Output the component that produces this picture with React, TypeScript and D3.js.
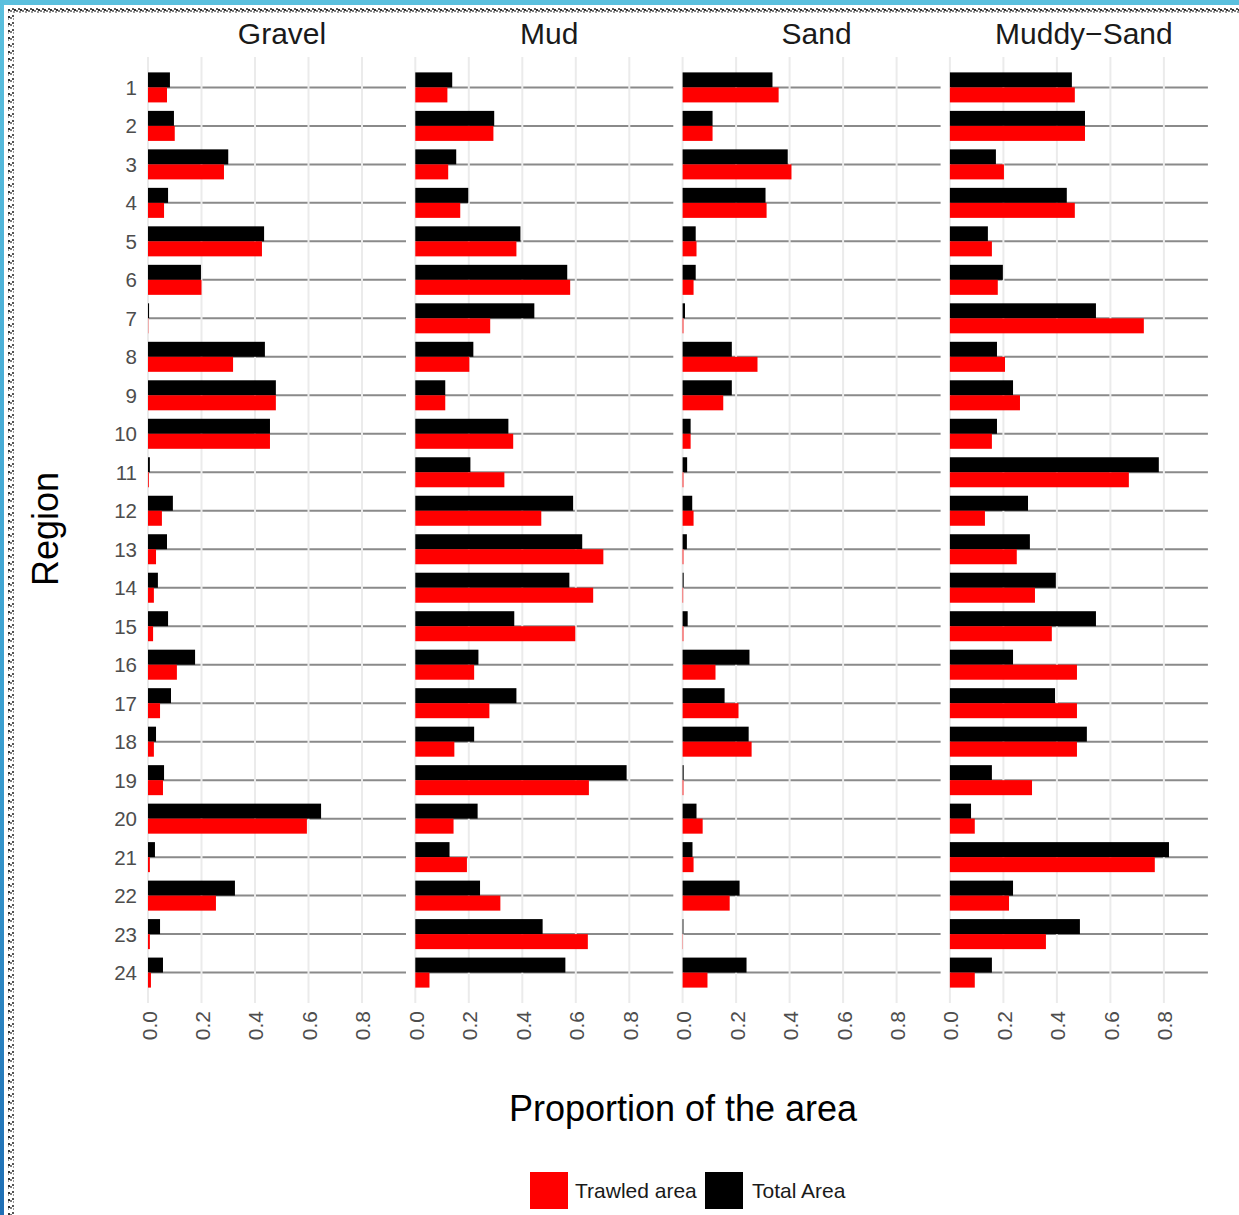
import React from "react";
import * as d3 from "d3";

const regions = d3.range(1, 25).map(String);
const substrates = ["Gravel", "Mud", "Sand", "Muddy\u2212Sand"];
const xTicks = [0, 0.2, 0.4, 0.6, 0.8];

const gravelTotal = [0.082, 0.097, 0.30, 0.075, 0.434, 0.198, 0.004, 0.437, 0.478, 0.456, 0.007, 0.093, 0.071, 0.037, 0.075, 0.176, 0.086, 0.03, 0.06, 0.647, 0.026, 0.325, 0.045, 0.056];
const gravelTrawled = [0.071, 0.10, 0.284, 0.06, 0.426, 0.20, 0.001, 0.318, 0.478, 0.456, 0.003, 0.052, 0.03, 0.022, 0.019, 0.108, 0.045, 0.022, 0.056, 0.594, 0.007, 0.254, 0.007, 0.011];
const mudTotal = [0.138, 0.295, 0.153, 0.198, 0.393, 0.568, 0.445, 0.217, 0.112, 0.348, 0.206, 0.59, 0.624, 0.576, 0.37, 0.236, 0.378, 0.22, 0.79, 0.233, 0.128, 0.242, 0.476, 0.561];
const mudTrawled = [0.12, 0.292, 0.123, 0.168, 0.378, 0.579, 0.28, 0.202, 0.112, 0.366, 0.333, 0.471, 0.703, 0.665, 0.598, 0.22, 0.277, 0.146, 0.649, 0.143, 0.193, 0.318, 0.645, 0.053];
const sandTotal = [0.336, 0.112, 0.393, 0.31, 0.049, 0.049, 0.009, 0.184, 0.184, 0.03, 0.017, 0.036, 0.016, 0.004, 0.019, 0.25, 0.157, 0.247, 0.004, 0.052, 0.037, 0.213, 0.003, 0.239];
const sandTrawled = [0.359, 0.112, 0.407, 0.314, 0.052, 0.041, 0.003, 0.28, 0.152, 0.03, 0.003, 0.041, 0.003, 0.002, 0.003, 0.123, 0.209, 0.258, 0.003, 0.075, 0.041, 0.176, 0.001, 0.093];
const muddySandTotal = [0.456, 0.505, 0.172, 0.437, 0.142, 0.198, 0.546, 0.176, 0.236, 0.176, 0.781, 0.292, 0.299, 0.396, 0.546, 0.236, 0.393, 0.512, 0.157, 0.079, 0.819, 0.236, 0.486, 0.157];
const muddySandTrawled = [0.467, 0.505, 0.202, 0.467, 0.157, 0.179, 0.725, 0.206, 0.262, 0.157, 0.669, 0.131, 0.25, 0.318, 0.381, 0.475, 0.475, 0.475, 0.307, 0.093, 0.766, 0.221, 0.359, 0.093];

const totals = [gravelTotal, mudTotal, sandTotal, muddySandTotal];
const trawled = [gravelTrawled, mudTrawled, sandTrawled, muddySandTrawled];

const W = 1239;
const H = 1215;
const FONT = "'Liberation Sans', Arial, Helvetica, sans-serif";

export default function App() {
  const panelLeft0 = 148;
  const panelStep = 267.3;
  const panelW = 258;
  const top = 57;
  const bottom = 1003;
  const x = d3.scaleLinear().domain([0, 0.9645]).range([0, panelW]);
  const y = d3.scalePoint<string>().domain(regions).range([top, bottom]).padding(0.79);
  const step = y.step();
  const barH = step * 0.39;

  return (
    <svg width={W} height={H} style={{ position: "absolute", left: 0, top: 0, background: "#fff" }} fontFamily={FONT}>
      <defs>
        <pattern id="hatch" width="6" height="7" patternUnits="userSpaceOnUse">
          <rect x="0" y="1" width="2" height="2" fill="#555" />
          <rect x="2" y="2" width="2" height="2" fill="#333" />
          <rect x="4" y="3" width="2" height="2" fill="#777" />
          <rect x="1" y="4" width="2" height="2" fill="#999" />
        </pattern>
        <linearGradient id="leftbar" x1="0" y1="0" x2="0" y2="1">
          <stop offset="0" stopColor="#5bc0de" />
          <stop offset="0.6" stopColor="#3a9fd0" />
          <stop offset="1" stopColor="#1f6fb5" />
        </linearGradient>
      </defs>
      <rect x={0} y={0} width={W} height={H} fill="#fff" />
      <rect x={0} y={0} width={W} height={5} fill="#5bc0de" />
      <rect x={0} y={0} width={4} height={H} fill="url(#leftbar)" />
      <rect x={8} y={8} width={W - 8} height={7} fill="url(#hatch)" />
      <rect x={8} y={8} width={6} height={H - 8} fill="url(#hatch)" />

      {substrates.map((name, pi) => {
        const x0 = panelLeft0 + pi * panelStep;
        const tot = totals[pi];
        const trw = trawled[pi];
        return (
          <g key={name} transform={`translate(${x0},0)`}>
            <text x={panelW / 2 + 5} y={44} textAnchor="middle" fontSize={30} fill="#1a1a1a">{name}</text>
            {regions.map((r) => (
              <line key={"h" + r} x1={0} x2={panelW} y1={y(r)} y2={y(r)} stroke="#8a8a8a" strokeWidth={2} />
            ))}
            {xTicks.map((t) => (
              <line key={"v" + t} x1={x(t)} x2={x(t)} y1={top} y2={bottom} stroke="#ebebeb" strokeWidth={2} />
            ))}
            {regions.map((r, i) => (
              <g key={"b" + r}>
                <rect x={x(0)} y={(y(r) as number) - barH} width={x(tot[i]) - x(0)} height={barH} fill="#000" />
                <rect x={x(0)} y={y(r) as number} width={x(trw[i]) - x(0)} height={barH} fill="#ff0000" />
              </g>
            ))}
            {xTicks.map((t) => (
              <text key={"t" + t} transform={`translate(${x(t) + 1},1011) rotate(-90)`} textAnchor="end" dominantBaseline="central" fontSize={21} fill="#4d4d4d">
                {d3.format(".1f")(t)}
              </text>
            ))}
          </g>
        );
      })}

      {regions.map((r) => (
        <text key={"y" + r} x={137} y={y(r)} textAnchor="end" dominantBaseline="central" fontSize={20.5} fill="#4d4d4d">{r}</text>
      ))}

      <text transform="translate(58,529) rotate(-90)" textAnchor="middle" fontSize={36} fill="#000">Region</text>
      <text x={683} y={1121} textAnchor="middle" fontSize={36} fill="#000">Proportion of the area</text>

      <rect x={530} y={1172} width={38} height={37} fill="#ff0000" />
      <text x={575} y={1198} fontSize={21} fill="#1a1a1a">Trawled area</text>
      <rect x={705} y={1172} width={38} height={37} fill="#000" />
      <text x={752} y={1198} fontSize={21} fill="#1a1a1a">Total Area</text>
    </svg>
  );
}
